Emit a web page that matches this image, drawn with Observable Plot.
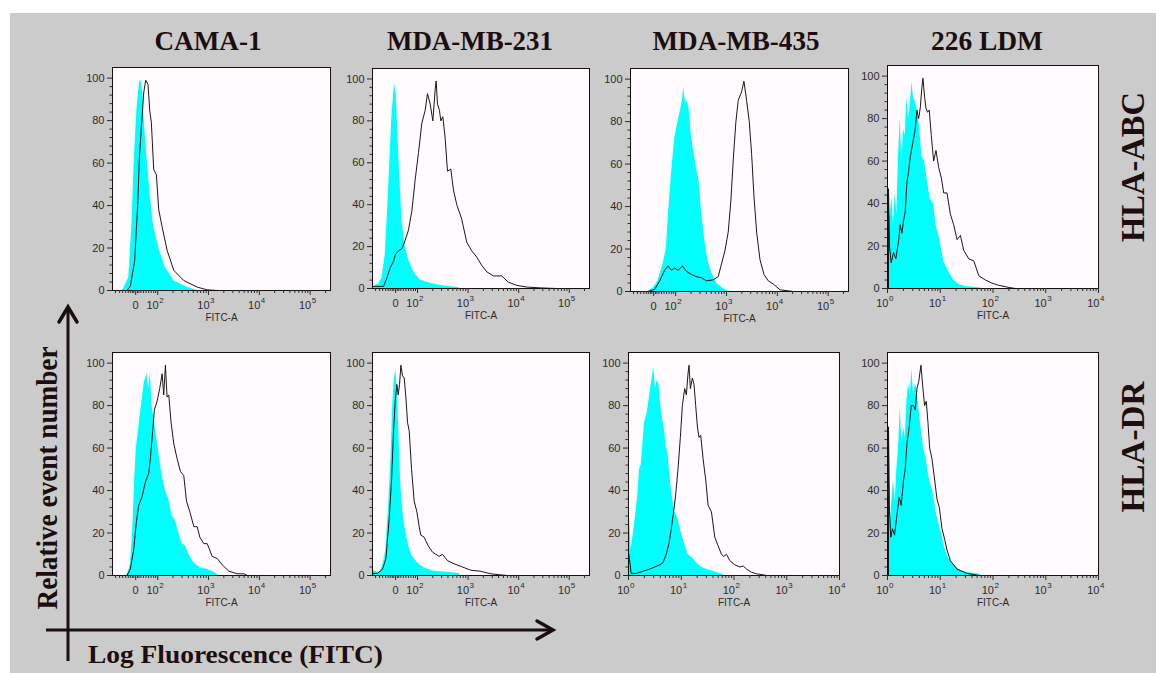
<!DOCTYPE html>
<html>
<head>
<meta charset="utf-8">
<script src="https://cdn.jsdelivr.net/npm/d3@7"></script>
<script src="https://cdn.jsdelivr.net/npm/@observablehq/plot@0.6"></script>
<style>
  body { margin: 0; background: #ffffff; }
  #fig { position: relative; width: 1156px; height: 673px; overflow: hidden; background: #ffffff; }
  #bg { position: absolute; left: 10px; top: 13px; right: 0; bottom: 0; background: #cbcbcb; }
  .panel { position: absolute; }
  #overlay { position: absolute; left: 0; top: 0; pointer-events: none; }
</style>
</head>
<body>
<div id="fig"><div id="bg"></div></div>
<script>
// ---------- categories / labels ----------
const cellLines = ["CAMA-1", "MDA-MB-231", "MDA-MB-435", "226 LDM"];
const markers = ["HLA-ABC", "HLA-DR"];
const yMajor = [0, 20, 40, 60, 80, 100];
const yMinor = [4, 8, 12, 16, 24, 28, 32, 36, 44, 48, 52, 56, 64, 68, 72, 76, 84, 88, 92, 96];
// biexponential (logicle) axis, positions in display decades
const logicleMajor = [1.566, 2, 3, 4, 5];
const logicleBase = ["0", "10", "10", "10", "10"];
const logicleExp = ["", "2", "3", "4", "5"];
const logicleLinearMinor = [1.17, 1.25, 1.31, 1.37, 1.42, 1.46, 1.50, 1.53, 1.60, 1.63, 1.67, 1.72, 1.77, 1.82, 1.87, 1.92, 1.96];
// log axis
const logMajor = [0, 1, 2, 3, 4];
const logBase = ["10", "10", "10", "10", "10"];
const logExp = ["0", "1", "2", "3", "4"];

// ---------- series: [display decade, % of max] ----------
const cama1AbcIso = [[1.30,0],[1.33,1],[1.43,6],[1.49,30],[1.54,62],[1.59,85],[1.64,98],[1.67,99],[1.71,92],[1.74,78],[1.79,62],[1.86,43],[1.92,30],[2.02,20],[2.15,11],[2.32,4.5],[2.58,1.5],[2.78,0]];
const cama1AbcStain = [[1.395,0],[1.461,2],[1.546,14],[1.605,40],[1.638,62],[1.678,77],[1.724,93],[1.763,99],[1.809,97],[1.842,85],[1.875,79],[1.921,57],[1.974,54.5],[2.02,38],[2.086,30],[2.184,19],[2.316,9.5],[2.513,4.7],[2.776,1.6],[2.974,0.3],[3.171,0]];

const mda231AbcIso = [[1.112,3],[1.132,1],[1.230,2],[1.296,5],[1.362,16],[1.414,40],[1.461,65],[1.493,82],[1.526,92],[1.546,98],[1.579,92],[1.605,78],[1.645,55],[1.691,33],[1.757,20],[1.822,14],[1.921,8],[2.053,4],[2.25,2.5],[2.513,1.2],[2.809,0.5],[2.842,0]];
const mda231AbcStain = [[1.112,1],[1.329,1],[1.395,5],[1.461,10],[1.526,13],[1.559,16],[1.625,18],[1.691,19],[1.757,23],[1.822,28],[1.888,37],[1.954,52],[2.02,65],[2.086,79],[2.151,85],[2.197,93],[2.25,88],[2.303,80],[2.349,95],[2.368,99],[2.395,88],[2.434,85],[2.461,80],[2.5,82],[2.546,72],[2.592,56],[2.658,57],[2.711,47],[2.776,40],[2.875,33],[2.974,22],[3.072,18],[3.171,15],[3.270,11],[3.368,8],[3.5,6],[3.664,6],[3.796,3],[3.961,1.5],[4.158,0.7],[4.421,0.3],[4.75,0]];

const mda435AbcIso = [[1.454,0],[1.553,1.5],[1.651,5],[1.75,13],[1.816,20],[1.862,38],[1.914,55],[1.980,72],[2.046,80],[2.092,85],[2.132,90],[2.158,96],[2.197,88],[2.224,90],[2.263,86],[2.309,73],[2.355,66],[2.408,58],[2.461,52],[2.507,38],[2.572,24],[2.638,14],[2.724,8],[2.803,4],[2.901,2],[3.033,0]];
const mda435AbcStain = [[1.454,0],[1.586,1],[1.684,5],[1.783,10],[1.849,12],[1.914,10],[1.980,11],[2.046,10],[2.132,12],[2.211,9.5],[2.309,8],[2.408,7],[2.507,6.5],[2.605,5],[2.737,5.5],[2.836,7],[2.901,13],[2.967,19],[3.033,28],[3.086,43],[3.132,62],[3.184,80],[3.230,90],[3.296,94],[3.342,99],[3.395,90],[3.447,80],[3.493,65],[3.539,45],[3.592,28],[3.658,15],[3.737,8],[3.822,5],[3.921,3.5],[4.053,0.8],[4.217,0.3],[4.316,0]];

const ldm226AbcIso = [[0.012,0],[0.019,30],[0.051,35],[0.082,43],[0.114,30],[0.146,45],[0.177,35],[0.209,62],[0.241,80],[0.273,60],[0.304,75],[0.336,72],[0.368,90],[0.399,80],[0.431,87],[0.463,97],[0.494,90],[0.526,88],[0.558,85],[0.590,80],[0.621,72],[0.653,62],[0.704,60],[0.748,52],[0.811,42],[0.875,40],[0.919,30],[1.001,22],[1.065,13],[1.160,8],[1.255,4],[1.350,2],[1.477,1],[1.731,0.3],[1.794,0]];
const ldm226AbcStain = [[0.019,0],[0.019,47],[0.038,20],[0.070,12],[0.114,17],[0.158,14],[0.209,22],[0.241,30],[0.273,26],[0.304,32],[0.336,36],[0.368,50],[0.399,55],[0.431,62],[0.475,68],[0.526,75],[0.558,84],[0.590,80],[0.621,85],[0.653,95],[0.672,99],[0.704,90],[0.729,85],[0.761,83],[0.792,84],[0.830,72],[0.875,60],[0.919,65],[0.970,57],[1.021,52],[1.065,45],[1.128,45],[1.192,35],[1.255,30],[1.319,23],[1.382,25],[1.445,18],[1.540,14],[1.636,13],[1.731,6],[1.857,4],[1.984,2.5],[2.111,1.5],[2.301,0.5],[2.428,0]];

const cama1DrIso = [[1.395,0],[1.461,5],[1.507,20],[1.546,45],[1.579,60],[1.625,69],[1.678,80],[1.737,91],[1.789,95],[1.822,88],[1.855,95],[1.888,80],[1.921,75],[1.974,66],[2.02,58],[2.086,47],[2.151,40],[2.217,36],[2.283,28],[2.349,26],[2.414,20],[2.480,15],[2.546,14],[2.612,10],[2.711,6],[2.842,3.5],[2.974,3],[3.105,1.5],[3.204,0]];
const cama1DrStain = [[1.395,0],[1.461,3],[1.526,12],[1.579,25],[1.625,33],[1.691,37],[1.757,44],[1.822,48],[1.855,55],[1.908,70],[1.934,78],[1.987,82],[2.039,88],[2.086,95],[2.118,85],[2.151,99],[2.184,84],[2.217,85],[2.263,72],[2.316,62],[2.382,55],[2.447,49],[2.513,47],[2.566,35],[2.632,30],[2.711,23],[2.776,23],[2.829,18],[2.908,15],[2.974,15],[3.072,9],[3.171,8],[3.270,5],[3.401,2],[3.566,0.8],[3.697,0.8],[3.763,0]];

const mda231DrIso = [[1.112,4],[1.145,2],[1.243,1.5],[1.309,4],[1.375,12],[1.428,33],[1.474,55],[1.507,78],[1.539,92],[1.572,97],[1.605,85],[1.638,62],[1.671,42],[1.717,28],[1.770,20],[1.836,13],[1.901,9],[2.0,6],[2.132,3.5],[2.329,2],[2.592,1.5],[2.822,1],[2.855,0]];
const mda231DrStain = [[1.112,1],[1.211,1],[1.309,3],[1.375,8],[1.441,27],[1.487,45],[1.526,68],[1.559,82],[1.592,90],[1.618,85],[1.645,90],[1.671,99],[1.704,94],[1.737,93],[1.770,84],[1.803,72],[1.836,68],[1.882,50],[1.934,35],[1.987,30],[2.033,23],[2.066,19],[2.132,18],[2.211,14],[2.296,11],[2.362,10],[2.428,9],[2.493,10],[2.592,7],[2.724,5.5],[2.888,4],[3.053,2.5],[3.25,2],[3.447,0.8],[3.645,0.3],[3.776,0]];

const mda435DrIso = [[0.003,0],[0.006,72],[0.012,20],[0.019,28],[0.051,12],[0.082,18],[0.133,28],[0.177,38],[0.209,50],[0.241,52],[0.273,62],[0.304,72],[0.349,76],[0.387,82],[0.418,88],[0.450,93],[0.475,98],[0.513,88],[0.545,92],[0.577,90],[0.602,82],[0.640,75],[0.685,68],[0.716,60],[0.748,58],[0.780,48],[0.830,37],[0.875,30],[0.938,27],[1.002,20],[1.065,15],[1.128,10],[1.223,8],[1.287,6],[1.382,4],[1.477,3],[1.604,2],[1.731,1],[1.826,0]];
const mda435DrStain = [[0.006,10],[0.051,1],[0.146,1],[0.273,2],[0.399,3],[0.494,4],[0.590,5],[0.653,6],[0.716,10],[0.767,15],[0.811,22],[0.856,30],[0.894,38],[0.938,50],[0.983,65],[1.021,80],[1.065,88],[1.097,85],[1.128,95],[1.147,99],[1.173,88],[1.211,93],[1.242,90],[1.274,80],[1.306,70],[1.338,65],[1.369,66],[1.414,55],[1.464,45],[1.509,33],[1.572,30],[1.636,18],[1.699,14],[1.762,10],[1.807,9],[1.857,10],[1.921,7],[2.016,5],[2.111,4],[2.174,4.5],[2.238,3],[2.333,1.5],[2.428,0.8],[2.555,0.3],[2.618,0]];

const ldm226DrIso = [[0.012,0],[0.019,30],[0.051,25],[0.082,35],[0.114,45],[0.146,35],[0.177,50],[0.209,60],[0.241,79],[0.273,62],[0.304,70],[0.336,65],[0.368,82],[0.399,90],[0.431,85],[0.463,97],[0.494,85],[0.526,90],[0.558,88],[0.590,80],[0.634,70],[0.685,60],[0.735,55],[0.780,47],[0.830,42],[0.875,38],[0.919,30],[0.970,25],[1.021,20],[1.084,13],[1.160,8],[1.255,5],[1.350,3],[1.477,1.5],[1.636,1],[1.762,0.5],[1.781,0]];
const ldm226DrStain = [[0.019,0],[0.019,70],[0.038,30],[0.063,18],[0.095,22],[0.133,19],[0.177,28],[0.222,37],[0.260,33],[0.304,45],[0.336,50],[0.368,62],[0.412,70],[0.450,80],[0.494,80],[0.526,78],[0.558,88],[0.590,91],[0.634,99],[0.672,88],[0.704,80],[0.735,82],[0.767,72],[0.799,60],[0.843,55],[0.894,45],[0.938,36],[0.983,32],[1.033,22],[1.084,17],[1.128,12],[1.192,7],[1.255,5],[1.319,3],[1.414,2],[1.509,1],[1.636,0.5],[1.731,0]];

// ---------- axis helpers ----------
const decadeMinor = (first, last, max) => {
  const out = [];
  for (let n = first; n <= last; n++) for (let k = 2; k <= 9; k++) {
    const u = n + Math.log10(k);
    if (u <= max) out.push(u);
  }
  return out;
};
const logicleMinor = logicleLinearMinor.concat(decadeMinor(2, 5, 5.40));
const logMinor = decadeMinor(0, 3, 4);

const panels = [
  {iso: cama1AbcIso,  stain: cama1AbcStain,  axis: "logicle", left: 112, top: 67, width: 218, height: 223},
  {iso: mda231AbcIso, stain: mda231AbcStain, axis: "logicle", left: 372, top: 68, width: 217, height: 220},
  {iso: mda435AbcIso, stain: mda435AbcStain, axis: "logicle", left: 630, top: 68, width: 218, height: 223},
  {iso: ldm226AbcIso, stain: ldm226AbcStain, axis: "log",     left: 887, top: 65, width: 211, height: 223},
  {iso: cama1DrIso,   stain: cama1DrStain,   axis: "logicle", left: 112, top: 352, width: 218, height: 223},
  {iso: mda231DrIso,  stain: mda231DrStain,  axis: "logicle", left: 372, top: 352, width: 217, height: 223},
  {iso: mda435DrIso,  stain: mda435DrStain,  axis: "log",     left: 628, top: 352, width: 211, height: 223},
  {iso: ldm226DrIso,  stain: ldm226DrStain,  axis: "log",     left: 887, top: 352, width: 211, height: 223}
];

const fig = document.getElementById("fig");
const mL = 40, mR = 6, mT = 6, mB = 40;
const axisInk = "#2e2a2a";

for (const p of panels) {
  const logicle = p.axis === "logicle";
  const domain = logicle ? [1.11, 5.40] : [0, 4];
  const major = logicle ? logicleMajor : logMajor;
  const base = logicle ? logicleBase : logBase;
  const exp = logicle ? logicleExp : logExp;
  const minor = logicle ? logicleMinor : logMinor;
  const labels = major.map((u, i) => ({u, base: base[i], exp: exp[i]}));
  const zeroLabels = labels.filter(d => d.exp === "");
  const powLabels = labels.filter(d => d.exp !== "");
  const iso = p.iso.map(([u, v]) => ({u, v}));
  const stain = p.stain.map(([u, v]) => ({u, v}));

  const svg = Plot.plot({
    width: p.width + mL + mR,
    height: p.height + mT + mB,
    marginLeft: mL, marginRight: mR, marginTop: mT, marginBottom: mB,
    style: {background: "transparent", color: axisInk, fontFamily: "'Liberation Sans', Arial, sans-serif", overflow: "visible"},
    x: {domain, axis: null},
    y: {domain: [0, 105], axis: null},
    marks: [
      Plot.frame({fill: "#fffbfe"}),
      Plot.areaY(iso, {x: "u", y: "v", fill: "#00ffff", clip: true}),
      Plot.lineY(stain, {x: "u", y: "v", stroke: "#1c1616", strokeWidth: 1, clip: true}),
      Plot.frame({stroke: "#141010", strokeWidth: 1}),
      Plot.axisY({ticks: yMajor, label: null, tickSize: 5, tickPadding: 3, fontSize: 11, stroke: axisInk}),
      Plot.axisY({ticks: yMinor, label: null, tickSize: 2.5, tickFormat: () => "", stroke: axisInk}),
      Plot.axisX({ticks: major, label: null, tickSize: 5, tickFormat: () => "", stroke: axisInk}),
      Plot.axisX({ticks: minor, label: null, tickSize: 3, tickFormat: () => "", stroke: axisInk}),
      Plot.text(zeroLabels, {x: "u", text: "base", frameAnchor: "bottom", dy: 18, fontSize: 11, fill: axisInk}),
      Plot.text(powLabels, {x: "u", text: "base", frameAnchor: "bottom", dy: 18, dx: 1, textAnchor: "end", fontSize: 11, fill: axisInk}),
      Plot.text(powLabels, {x: "u", text: "exp", frameAnchor: "bottom", dy: 12, dx: 1.5, textAnchor: "start", fontSize: 8, fill: axisInk}),
      Plot.text(["FITC-A"], {text: d => d, frameAnchor: "bottom", dy: 30, fontSize: 10, fill: axisInk})
    ]
  });
  const div = document.createElement("div");
  div.className = "panel";
  div.style.left = (p.left - mL) + "px";
  div.style.top = (p.top - mT) + "px";
  div.append(svg);
  fig.append(div);
}

// ---------- annotations (titles, row labels, arrows) ----------
const colX = [208, 470, 736, 987];
const colLen = [107, 166, 167, 112];
const rowY = [167, 447];
const rowLen = [150, 131];
const ink = "#1c0e0e";
const serif = "'Liberation Serif', 'Times New Roman', serif";
let s = `<svg id="overlay" width="1156" height="673" xmlns="http://www.w3.org/2000/svg">`;
cellLines.forEach((t, i) => {
  s += `<text x="${colX[i]}" y="50" text-anchor="middle" font-family="${serif}" font-weight="bold" font-size="27" fill="${ink}" textLength="${colLen[i]}" lengthAdjust="spacingAndGlyphs">${t}</text>`;
});
markers.forEach((t, i) => {
  s += `<text transform="translate(1144,${rowY[i]}) rotate(-90)" text-anchor="middle" font-family="${serif}" font-weight="bold" font-size="33" fill="${ink}" textLength="${rowLen[i]}" lengthAdjust="spacingAndGlyphs">${t}</text>`;
});
s += `<text transform="translate(57,478) rotate(-90)" text-anchor="middle" font-family="${serif}" font-weight="bold" font-size="29" fill="${ink}" textLength="263" lengthAdjust="spacingAndGlyphs">Relative event number</text>`;
s += `<text x="88" y="663" font-family="${serif}" font-weight="bold" font-size="26" fill="${ink}" textLength="295" lengthAdjust="spacingAndGlyphs">Log Fluorescence (FITC)</text>`;
s += `<line x1="68" y1="661" x2="68" y2="308" stroke="${ink}" stroke-width="3"/>`;
s += `<polyline points="59,322 68,307 77,322" fill="none" stroke="${ink}" stroke-width="3.5" stroke-linecap="round"/>`;
s += `<line x1="46" y1="630" x2="552" y2="630" stroke="${ink}" stroke-width="3"/>`;
s += `<polyline points="537,621 553,630 537,639" fill="none" stroke="${ink}" stroke-width="3.5" stroke-linecap="round"/>`;
s += `</svg>`;
fig.insertAdjacentHTML("beforeend", s);
</script>
</body>
</html>
